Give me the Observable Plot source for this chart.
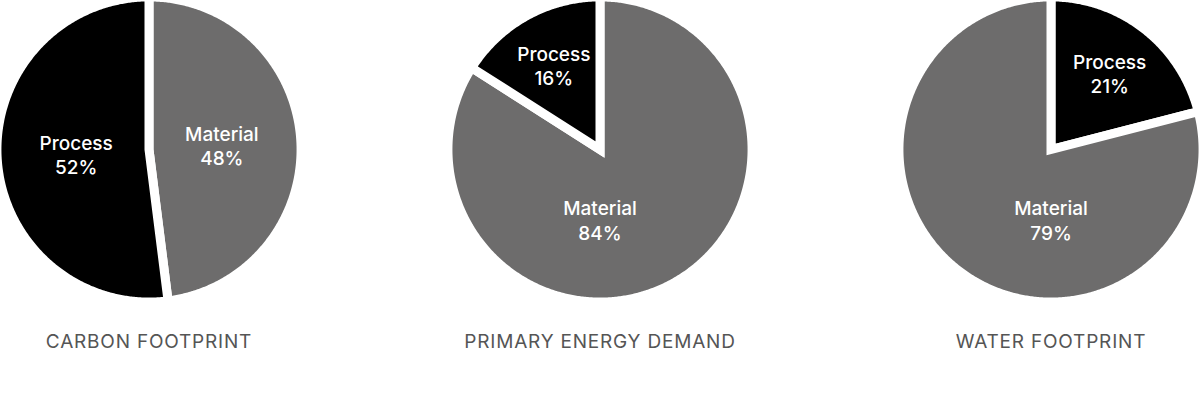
<!DOCTYPE html>
<html>
<head>
<meta charset="utf-8">
<script src="https://cdn.jsdelivr.net/npm/d3@7"></script>
<script src="https://cdn.jsdelivr.net/npm/@observablehq/plot@0.6"></script>
<style>
  html, body { margin: 0; padding: 0; background: #fff; }
  #chart { width: 1200px; height: 395px; }
  g[aria-label="fx-axis tick label"] text { letter-spacing: 0.8px; }
</style>
</head>
<body>
<div id="chart"></div>
<script>
// ---- data ----
const metrics = ["CARBON FOOTPRINT", "PRIMARY ENERGY DEMAND", "WATER FOOTPRINT"];
const categories = ["Process", "Material"];
const processShare = [52, 16, 21];
const materialShare = [48, 84, 79];
// clockwise order of slices from 12 o'clock, per chart
const sliceOrder = [
  ["Material", "Process"],
  ["Material", "Process"],
  ["Process", "Material"]
];
const colors = ["#000000", "#6d6c6c"];

// ---- build slice geometry (angles from values) ----
const polys = [];
const labels = [];
metrics.forEach((m, i) => {
  const share = {Process: processShare[i], Material: materialShare[i]};
  const total = processShare[i] + materialShare[i];
  let a = 0;
  sliceOrder[i].forEach(cat => {
    const span = share[cat] / total * 2 * Math.PI;
    const a0 = a, a1 = a + span, am = (a0 + a1) / 2;
    const step = Math.PI / 360;
    const n1 = Math.max(2, Math.ceil((a1 - am) / step));
    for (let k = 0; k <= n1; k++) {
      const t = am + (a1 - am) * k / n1;
      polys.push({metric: m, cat, x: Math.sin(t), y: Math.cos(t)});
    }
    polys.push({metric: m, cat, x: 0, y: 0});
    for (let k = 0; k <= n1; k++) {
      const t = a0 + (am - a0) * k / n1;
      polys.push({metric: m, cat, x: Math.sin(t), y: Math.cos(t)});
    }
    // label placement rule
    let la = am, lr = 0.48;
    if (span > 1.4 * Math.PI) { la = Math.PI; lr = 0.46; }
    else if (share[cat] / total < 0.25) { lr = 0.63; }
    labels.push({metric: m, cat, text: `${cat}\n${share[cat]}%`, x: lr * Math.sin(la), y: lr * Math.cos(la)});
    a = a1;
  });
});

const chart = Plot.plot({
  width: 1200,
  height: 395,
  marginTop: 1,
  marginBottom: 98,
  marginLeft: 0,
  marginRight: 0,
  style: {fontFamily: "Inter, 'Noto Sans', sans-serif", background: "#fff", overflow: "visible"},
  fx: {domain: metrics, paddingInner: 0.345, paddingOuter: 0, label: null, axis: null},
  x: {domain: [-0.97, 0.97], axis: null},
  y: {domain: [-0.97, 0.97], axis: null},
  color: {domain: categories, range: colors},
  marks: [
    Plot.line(polys, {
      fx: "metric", x: "x", y: "y", z: "cat", fill: "cat",
      stroke: "#fff", strokeWidth: 9, strokeLinejoin: "miter", strokeMiterlimit: 10, curve: "linear"
    }),
    Plot.text(labels, {
      fx: "metric", x: "x", y: "y", text: "text",
      fill: "#fff", fontSize: 19, fontWeight: 500, lineHeight: 1.28
    }),
    Plot.axisFx({anchor: "bottom", tickSize: 0, tickPadding: 37, fontSize: 19, fill: "#555", label: null})
  ]
});
document.getElementById("chart").appendChild(chart);
</script>
</body>
</html>
